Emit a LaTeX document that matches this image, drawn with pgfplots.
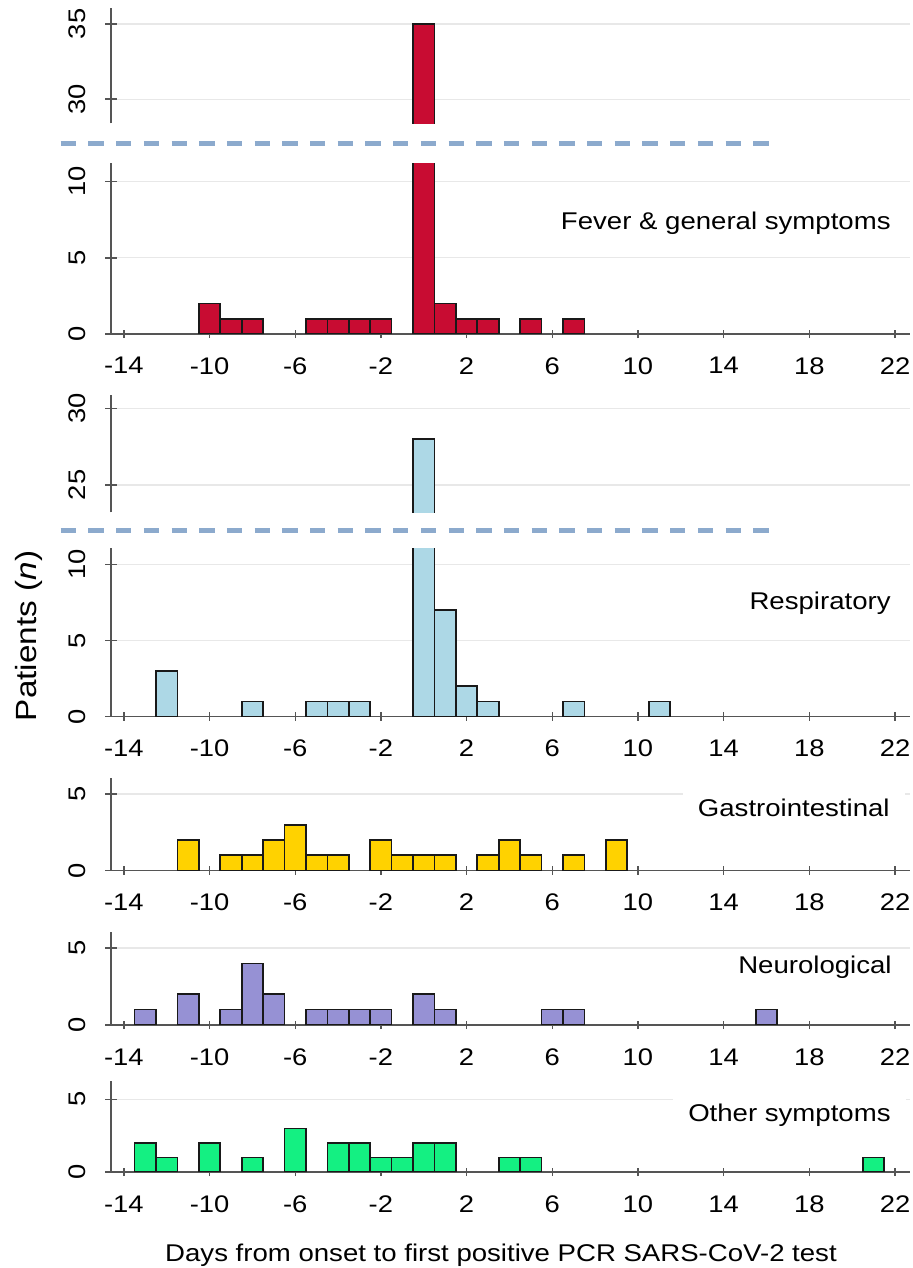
\documentclass[border=0pt]{standalone}
\usepackage{fontspec}
\setmainfont{Liberation Sans}[FakeStretch=1.14]
\usepackage{pgfplots}
\usepackage{pgfplotstable}
\pgfplotsset{compat=1.18}

\definecolor{fevcol}{RGB}{200,12,50}
\definecolor{respcol}{RGB}{173,216,230}
\definecolor{gastcol}{RGB}{255,210,0}
\definecolor{neurcol}{RGB}{150,145,212}
\definecolor{othcol}{RGB}{20,240,130}
\definecolor{axgray}{RGB}{85,85,85}
\definecolor{gridgray}{RGB}{232,232,232}
\definecolor{barline}{RGB}{25,25,25}
\definecolor{dashcol}{RGB}{140,170,205}

\pgfplotstableread{
x y
-10 2
-9 1
-8 1
-5 1
-4 1
-3 1
-2 1
0 35
1 2
2 1
3 1
5 1
7 1
}\fever

\pgfplotstableread{
x y
-12 3
-8 1
-5 1
-4 1
-3 1
0 28
1 7
2 2
3 1
7 1
11 1
}\resp

\pgfplotstableread{
x y
-11 2
-9 1
-8 1
-7 2
-6 3
-5 1
-4 1
-2 2
-1 1
0 1
1 1
3 1
4 2
5 1
7 1
9 2
}\gast

\pgfplotstableread{
x y
-13 1
-11 2
-9 1
-8 4
-7 2
-5 1
-4 1
-3 1
-2 1
0 2
1 1
6 1
7 1
16 1
}\neur

\pgfplotstableread{
x y
-13 2
-12 1
-10 2
-8 1
-6 3
-4 2
-3 2
-2 1
-1 1
0 2
1 2
4 1
5 1
21 1
}\oth

% outline of the tall day-0 bar in the broken (upper) segments: open at the bottom
\pgfplotstableread{
x y
-0.5 0
-0.5 35
0.5 35
0.5 0
}\fevertop

\pgfplotstableread{
x y
-0.5 0
-0.5 28
0.5 28
0.5 0
}\resptop

\pgfplotsset{
  common/.style={
    scale only axis, width=399.5pt,
    xmin=-14.6, xmax=22.7,
    tick align=outside,
    major tick length=5.5pt,
    tick style={draw=axgray, line width=0.7pt},
    ymajorgrids,
    grid style={draw=gridgray, line width=0.6pt},
    tick label style={font=\fontsize{12}{14}\selectfont, text=black},
    yticklabel style={rotate=90, anchor=south, inner sep=0pt},
    yticklabel shift=9.5pt,
    anchor=south west,
  },
  upper/.style={common, axis x line=none, axis y line=left,
    axis line style={-, draw=axgray, line width=0.7pt}},
  lower/.style={common, ybar, bar width=1,
    axis x line=bottom, axis y line=left,
    axis line style={-, draw=axgray, line width=0.7pt},
    xtick={-14,-10,...,22},
    xticklabels={-14,-10,-6,-2,2,6,10,14,18,22},
    xtick style={/pgfplots/major tick length=4.2pt},
    xticklabel style={anchor=north, inner sep=0pt},
    xticklabel shift=8.8pt},
  barstyle/.style={draw=barline, line width=0.85pt, fill=#1},
}

\begin{document}
\begin{tikzpicture}
\useasboundingbox (0,0) rectangle (456.5pt,634pt);

% Fever
\begin{axis}[upper, at={(55.5pt,572.35pt)}, height=57.5pt,
  ymin=28.4, ymax=36.04, ytick={30,35}, yticklabels={30,35}]
\addplot[barstyle=fevcol, sharp plot, mark=none] table[x=x,y=y]{\fevertop};
\end{axis}
\begin{axis}[lower, at={(55.5pt,467pt)}, height=85.35pt,
  ymin=0, ymax=11.21, ytick={0,5,10}, yticklabels={0,5,10}]
\addplot[barstyle=fevcol] table[x=x,y=y]{\fever};
\end{axis}

% Respiratory
\begin{axis}[upper, at={(55.5pt,377.85pt)}, height=58.65pt,
  ymin=23.22, ymax=30.87, ytick={25,30}, yticklabels={25,30}]
\addplot[barstyle=respcol, sharp plot, mark=none] table[x=x,y=y]{\resptop};
\end{axis}
\begin{axis}[lower, at={(55.5pt,275.65pt)}, height=84.2pt,
  ymin=0, ymax=11.05, ytick={0,5,10}, yticklabels={0,5,10}]
\addplot[barstyle=respcol] table[x=x,y=y]{\resp};
\end{axis}

% Gastrointestinal
\begin{axis}[lower, at={(55.5pt,198.65pt)}, height=46.2pt,
  ymin=0, ymax=6.02, ytick={0,5}, yticklabels={0,5}]
\addplot[barstyle=gastcol] table[x=x,y=y]{\gast};
\end{axis}

% Neurological
\begin{axis}[lower, at={(55.5pt,121.5pt)}, height=46.65pt,
  ymin=0, ymax=6.06, ytick={0,5}, yticklabels={0,5}]
\addplot[barstyle=neurcol] table[x=x,y=y]{\neur};
\end{axis}

% Other
\begin{axis}[lower, at={(55.5pt,48pt)}, height=45.65pt,
  ymin=0, ymax=6.28, ytick={0,5}, yticklabels={0,5}]
\addplot[barstyle=othcol] table[x=x,y=y]{\oth};
\end{axis}

% axis break markers
\draw[dashcol, line width=2.5pt, dash pattern=on 7.65pt off 6.2pt] (30.35pt,562.35pt) -- (386.5pt,562.35pt);
\draw[dashcol, line width=2.5pt, dash pattern=on 7.65pt off 6.2pt] (30.35pt,368.65pt) -- (386.5pt,368.65pt);

% panel labels
\begin{scope}[every node/.style={anchor=base east, fill=white, inner xsep=7.5pt, inner ysep=3pt, font=\fontsize{12.1}{14}\selectfont}]
\node at (453pt,519pt) {Fever \& general symptoms};
\node at (453pt,329pt) {Respiratory};
\node at (452.5pt,225.65pt) {Gastrointestinal};
\node at (453.5pt,147pt) {Neurological};
\node at (453pt,73.15pt) {Other symptoms};
\end{scope}

\node[rotate=90, anchor=base, font=\fontsize{14.6}{17}\selectfont] at (18.35pt,316pt) {Patients (\textit{n})};
\node[anchor=base, font=\fontsize{12.1}{14}\selectfont] at (250.5pt,3pt) {Days from onset to first positive PCR SARS-CoV-2 test};
\end{tikzpicture}
\end{document}
